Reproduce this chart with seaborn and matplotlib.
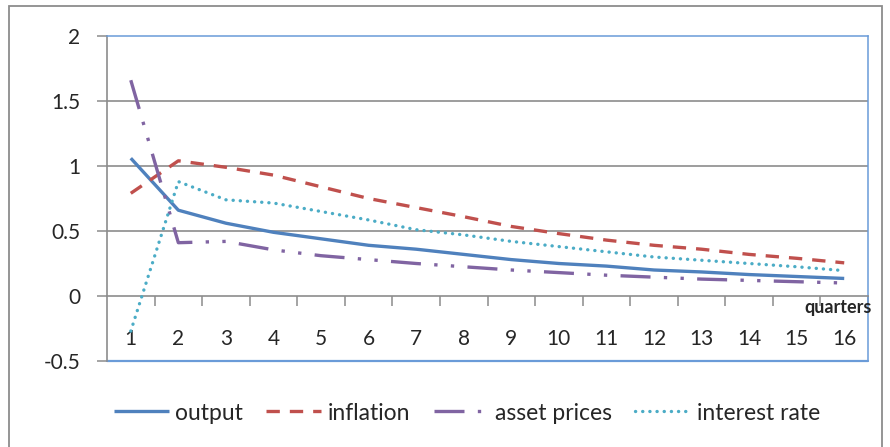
import matplotlib
matplotlib.use("Agg")
import matplotlib.pyplot as plt
from matplotlib.patches import Rectangle
import seaborn as sns
import pandas as pd

quarters = list(range(1, 17))
output = [1.06, 0.66, 0.56, 0.49, 0.44, 0.39, 0.36, 0.32, 0.28, 0.25, 0.23, 0.20, 0.185, 0.165, 0.15, 0.135]
inflation = [0.79, 1.04, 0.99, 0.93, 0.84, 0.75, 0.68, 0.61, 0.535, 0.48, 0.43, 0.39, 0.36, 0.32, 0.29, 0.255]
asset_prices = [1.66, 0.41, 0.42, 0.355, 0.31, 0.28, 0.25, 0.225, 0.20, 0.18, 0.16, 0.145, 0.13, 0.12, 0.11, 0.10]
interest_rate = [-0.27, 0.88, 0.74, 0.715, 0.65, 0.585, 0.51, 0.47, 0.42, 0.38, 0.34, 0.30, 0.275, 0.25, 0.225, 0.195]

series_names = ["output", "inflation", "asset prices", "interest rate"]
y_ticks = [-0.5, 0, 0.5, 1, 1.5, 2]
y_tick_labels = ["-0.5", "0", "0.5", "1", "1.5", "2"]
x_label = "quarters"

colors = ["#4F81BD", "#C0504D", "#8064A2", "#4BACC6"]
dash_styles = [None, (4, 3), (9, 4, 1, 4, 1, 4), (0.05, 2.1)]

sns.set_style("white")
plt.rcParams["font.family"] = ["Lato", "DejaVu Sans"]

fig = plt.figure(figsize=(8.9, 4.47), dpi=100)
W, H = 890, 447
ax = fig.add_axes([107 / W, 1 - 361 / H, (868 - 107) / W, (361 - 36) / H])

# outer chart border
fig.patches.append(Rectangle((9 / W, -0.05), (882 - 9) / W, 1.05 - 6 / H,
                             transform=fig.transFigure, fill=False,
                             edgecolor="#8c8c8c", linewidth=1.3, zorder=0))

data = [output, inflation, asset_prices, interest_rate]
for name, vals, col, ds in zip(series_names, data, colors, dash_styles):
    df = pd.DataFrame({"quarter": quarters, "value": vals})
    sns.lineplot(data=df, x="quarter", y="value", color=col, linewidth=2.4,
                 ax=ax, label=name, legend=False)
    ln = ax.lines[-1]
    if ds is not None:
        ln.set_dashes(ds)
    if name == "interest rate":
        ln.set_dash_capstyle("round")
    else:
        ln.set_dash_capstyle("butt")
    ln.set_solid_capstyle("butt")
    ln.set_zorder(3)

ax.set_xlim(0.5, 16.5)
ax.set_ylim(-0.5, 2)
ax.set_xlabel("")
ax.set_ylabel("")

# gridlines
for yv in [0.5, 1, 1.5]:
    ax.axhline(yv, color="#8c8c8c", lw=1.2, zorder=1)

# y axis
ax.set_yticks(y_ticks)
ax.set_yticklabels(y_tick_labels, fontsize=15)
ax.tick_params(axis="y", direction="out", length=7, width=1.1, color="#8c8c8c",
               pad=12, left=True)

# x axis at y = 0
ax.spines["bottom"].set_position(("data", 0))
ax.spines["bottom"].set_color("#8c8c8c")
ax.spines["bottom"].set_linewidth(1.2)
ax.set_xticks([q + 0.5 for q in quarters[:-1]] + [16.5])
ax.set_xticklabels([])
ax.set_xticks(quarters, minor=True)
ax.set_xticklabels([str(q) for q in quarters], minor=True, fontsize=15)
ax.tick_params(axis="x", which="major", direction="out", length=7, width=1.1,
               color="#8c8c8c", bottom=True)
ax.tick_params(axis="x", which="minor", length=0, pad=24, bottom=True)

# spines
ax.spines["left"].set_color("#8c8c8c")
ax.spines["left"].set_linewidth(1.2)
for s in ["top", "right"]:
    ax.spines[s].set_color("#6A9BD8")
    ax.spines[s].set_linewidth(1.1)
# bottom plot-area border
ax.axhline(-0.5, color="#6A9BD8", lw=1.6, zorder=2, clip_on=False)

ax.text(16.58, -0.092, x_label, ha="right", va="center", fontsize=13,
        fontweight="bold", transform=ax.transData, clip_on=False)

handles = ax.lines[:4]
fig.legend(handles, series_names, loc="center", bbox_to_anchor=(467 / W, 1 - 413 / H),
           ncol=4, frameon=False, fontsize=16.5, handlelength=2.4, handletextpad=0.3,
           columnspacing=1.0)

fig.savefig("out.png", dpi=100)
